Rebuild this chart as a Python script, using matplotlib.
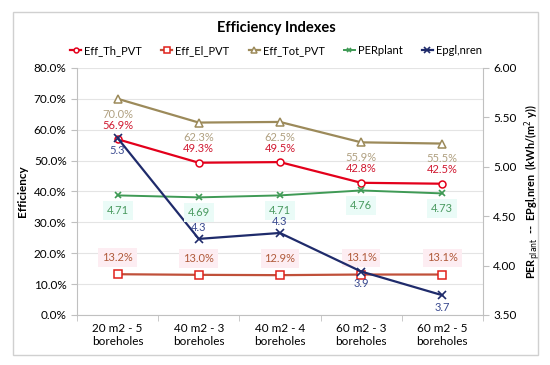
import matplotlib.pyplot as plt
from matplotlib.patches import Rectangle

plt.rcParams['font.family'] = ['Lato', 'DejaVu Sans']

categories = ['20 m2 - 5\nboreholes', '40 m2 - 3\nboreholes', '40 m2 - 4\nboreholes',
              '60 m2 - 3\nboreholes', '60 m2 - 5\nboreholes']
eff_th = [56.9, 49.3, 49.5, 42.8, 42.5]
eff_el = [13.2, 13.0, 12.9, 13.1, 13.1]
eff_tot = [70.0, 62.3, 62.5, 55.9, 55.5]
per_plant = [4.71, 4.69, 4.71, 4.76, 4.73]
epgl_nren = [5.29, 4.27, 4.33, 3.94, 3.70]

x = list(range(len(categories)))

fig = plt.figure(figsize=(5.5, 3.65), dpi=100)
fig.patches.append(Rectangle((13 / 550, 10 / 365), 525 / 550, 343 / 365, transform=fig.transFigure,
                             fill=False, edgecolor='#d0d0d0', linewidth=1.0))
ax = fig.add_axes([0.14, 0.137, 0.738, 0.677])
ax2 = ax.twinx()

c_th = '#e3001b'
c_tot = '#9c8a5a'
c_per = '#3f9a55'
c_ep = '#1f2b6b'

l1, = ax.plot(x, eff_th, color=c_th, lw=1.6, marker='o', ms=5, mfc='white', mec=c_th, mew=1.1, label='Eff_Th_PVT')
l2, = ax.plot(x, eff_el, color='#c0503a', lw=1.6, marker='s', ms=6, mfc='white', mec='#e0201b', mew=1.1, label='Eff_El_PVT')
l3, = ax.plot(x, eff_tot, color=c_tot, lw=1.6, marker='^', ms=6, mfc='white', mec=c_tot, mew=1.1, label='Eff_Tot_PVT')
l4, = ax2.plot(x, per_plant, color=c_per, lw=1.4, marker='x', ms=5, mew=1.2, label='PERplant')
l5, = ax2.plot(x, epgl_nren, color=c_ep, lw=1.6, marker='x', ms=6, mew=1.2, label='Epgl,nren')

fs = 8
for i in x:
    ax.annotate(f'{eff_th[i]:.1f}%', (i, eff_th[i]), xytext=(0, 6), textcoords='offset points',
                ha='center', va='bottom', fontsize=fs, color='#d01830')
    ax.annotate(f'{eff_tot[i]:.1f}%', (i, eff_tot[i]), xytext=(0, -7), textcoords='offset points',
                ha='center', va='top', fontsize=fs, color='#b0a080')
    ax.annotate(f'{eff_el[i]:.1f}%', (i, eff_el[i]), xytext=(0, 8), textcoords='offset points',
                ha='center', va='bottom', fontsize=fs, color='#b05a3a',
                bbox=dict(boxstyle='square,pad=0.35', fc='#fdedf2', ec='none'))
    ax2.annotate(f'{per_plant[i]:.2f}', (i, per_plant[i]), xytext=(0, -7), textcoords='offset points',
                 ha='center', va='top', fontsize=fs, color='#4a9a60',
                 bbox=dict(boxstyle='square,pad=0.35', fc='#eafbf7', ec='none'))
    off = 4 if i in (1, 2) else -5
    ax2.annotate(f'{epgl_nren[i]:.1f}', (i, epgl_nren[i]), xytext=(0, off), textcoords='offset points',
                 ha='center', va='bottom' if off > 0 else 'top', fontsize=fs, color='#3a4a90')

ax.set_xlim(-0.5, 4.5)
ax.set_ylim(0, 80)
ax.set_yticks(range(0, 81, 10))
ax.set_yticklabels([f'{v:.1f}%' for v in range(0, 81, 10)])
ax2.set_ylim(3.5, 6.0)
ax2.set_yticks([3.5, 4.0, 4.5, 5.0, 5.5, 6.0])
ax2.set_yticklabels([f'{v:.2f}' for v in [3.5, 4.0, 4.5, 5.0, 5.5, 6.0]])

ax.set_xticks(x)
ax.set_xticklabels(categories)
ax.set_xticks([i + 0.5 for i in range(-1, 5)], minor=True)
ax.tick_params(axis='x', which='major', length=0, pad=6, labelsize=8.5)
ax.tick_params(axis='x', which='minor', length=4, color='#c0c0c0')
ax.tick_params(axis='y', length=4, color='#c0c0c0', labelsize=8.5)
ax2.tick_params(axis='y', length=4, color='#c0c0c0', labelsize=8.5)

ax.grid(axis='y', color='#e4e4e4', lw=0.8)
ax.set_axisbelow(True)
ax.spines['top'].set_visible(False)
ax2.spines['top'].set_visible(False)
ax.spines['right'].set_visible(False)
ax.spines['left'].set_color('#c0c0c0')
ax.spines['bottom'].set_color('#c0c0c0')
ax2.spines['left'].set_visible(False)
ax2.spines['bottom'].set_visible(False)
ax2.spines['right'].set_color('#c0c0c0')

ax.set_ylabel('Efficiency', fontsize=8.5, fontweight='bold', labelpad=4)
ax2.set_ylabel(r'PER$_{\mathrm{plant}}$  --  EPgl,nren  (kWh/(m$^2$ y))', fontsize=7.8,
               fontweight='bold', labelpad=4)

fig.text(0.502, 0.922, 'Efficiency Indexes', ha='center', va='center', fontsize=10.5, fontweight='bold')
fig.legend(handles=[l1, l2, l3, l4, l5], loc='center', bbox_to_anchor=(0.502, 0.862), ncol=5,
           frameon=False, fontsize=8, handlelength=1.0, handletextpad=0.3, columnspacing=1.7,
           markerscale=0.7)

fig.savefig('out.png', dpi=100)
